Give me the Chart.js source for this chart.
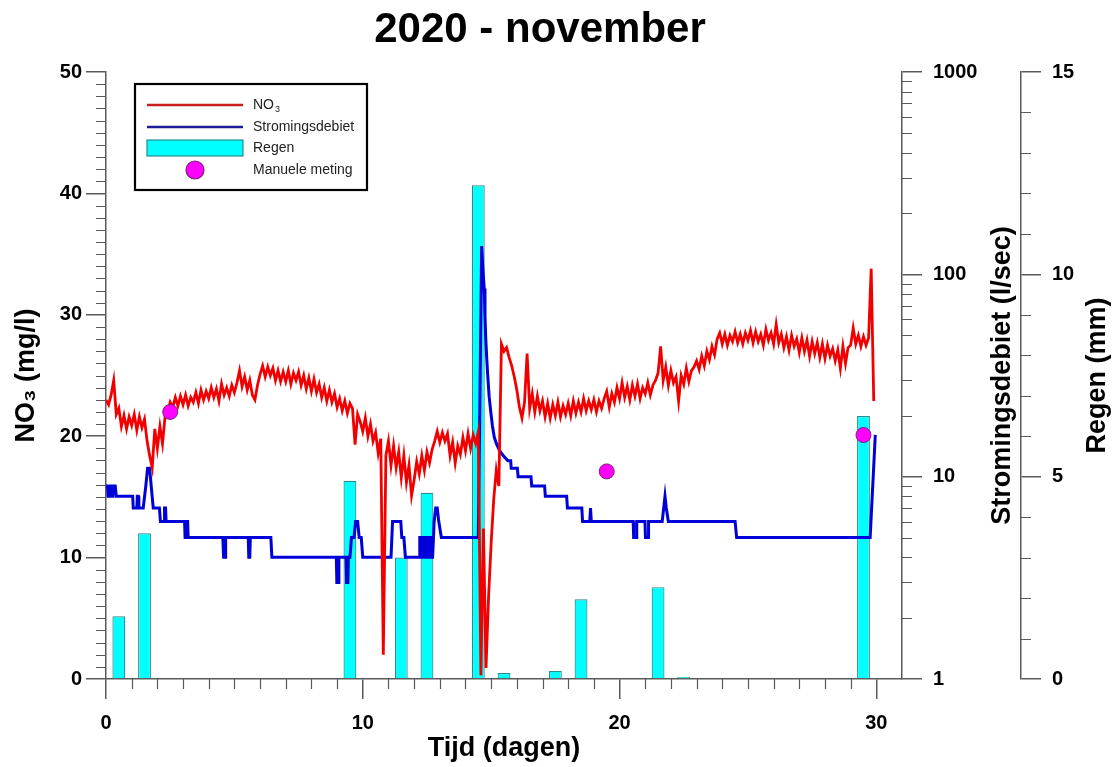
<!DOCTYPE html>
<html>
<head>
<meta charset="utf-8">
<title>2020 - november</title>
<script src="https://cdn.jsdelivr.net/npm/chart.js@4.4.0/dist/chart.umd.min.js"></script>
<style>
  html, body { margin: 0; padding: 0; background: #fff; }
  #wrap { width: 1118px; height: 767px; position: relative; }
</style>
</head>
<body>
<div id="wrap"><canvas id="chart"></canvas></div>
<script>
const FONT = 'Arial, "Liberation Sans", Helvetica, sans-serif';
const AXIS = '#5a5a5a';

// NO3 sensor, one reading every 0.1 day starting at day 0
const no3Step = 0.1;
const no3Values = [
  23.0, 22.6, 23.4, 24.6, 21.8, 22.3, 20.8, 21.7, 20.6, 21.6,
  20.9, 21.8, 20.5, 21.6, 20.7, 21.4, 19.6, 18.4, 17.4, 20.6,
  19.0, 20.8, 19.4, 21.6, 21.9, 22.8, 22.4, 23.2, 22.5, 23.3,
  22.6, 23.4, 22.5, 23.2, 22.8, 23.6, 22.7, 23.8, 23.0, 23.7,
  23.1, 24.0, 23.2, 23.9, 22.9, 24.3, 23.4, 24.0, 23.3, 24.2,
  23.6, 24.4, 25.4, 24.1, 24.9, 23.8, 24.6, 23.4, 23.0, 24.2,
  25.1, 25.8, 24.9, 25.7, 25.0, 25.6, 24.6, 25.4, 24.5, 25.3,
  24.5, 25.4, 24.3, 25.2, 24.6, 25.3, 24.2, 25.0, 23.9, 24.8,
  23.7, 24.7, 23.6, 24.3, 23.2, 24.0, 22.9, 23.8, 22.8, 23.5,
  22.4, 23.1, 22.1, 22.9, 21.9, 22.7, 22.3, 19.3, 21.8, 21.2,
  20.4, 21.5, 20.0, 21.0, 19.6, 20.3, 18.6, 19.8, 2.0, 18.4,
  19.6, 17.6, 19.2, 17.4, 18.7, 16.6, 18.4, 16.2, 17.6, 15.1,
  16.4, 17.9, 16.9, 18.4, 17.2, 18.7, 17.8, 18.9, 19.6, 20.4,
  19.5, 20.3, 19.6, 20.2, 18.4, 19.5, 17.8, 19.2, 18.5, 19.9,
  18.8, 20.2, 19.0, 20.1, 19.4, 20.4, 0.3, 12.4, 0.9, 6.8,
  11.2, 14.8, 17.2, 15.9, 27.6, 27.0, 27.3, 26.5, 25.8, 24.9,
  23.8, 22.4, 21.5, 22.8, 26.8, 22.3, 23.5, 22.0, 23.3, 22.1,
  22.9, 21.6, 22.7, 21.5, 22.6, 21.7, 22.8, 21.6, 22.5, 21.8,
  22.7, 21.7, 22.9, 21.9, 22.8, 22.0, 23.1, 22.1, 22.9, 22.2,
  23.0, 22.0, 22.9, 22.3, 23.1, 23.7, 22.4, 23.5, 22.8, 24.0,
  23.1, 24.4, 23.2, 24.1, 23.0, 24.2, 23.3, 24.3, 23.1, 24.0,
  23.5, 24.4, 23.4, 24.2, 24.6, 25.2, 27.4, 24.6, 25.7, 24.2,
  25.4, 24.4, 24.9, 22.9, 25.0, 24.3, 25.6, 24.5, 25.4, 25.7,
  26.2, 25.5, 26.6, 25.8, 27.0, 26.3, 27.4, 26.7, 28.0, 28.5,
  27.6, 28.4, 27.5, 28.3, 27.8, 28.6, 27.7, 28.4, 27.6, 28.5,
  27.9, 28.7, 27.7, 28.6, 27.8, 28.4, 27.5, 28.8, 27.9, 28.5,
  27.6, 29.2, 27.7, 28.4, 27.3, 28.2, 27.1, 28.3, 27.4, 28.0,
  26.9, 28.1, 27.0, 27.9, 26.6, 27.8, 26.8, 27.7, 26.5, 27.6,
  26.4, 27.5, 26.6, 27.2, 26.2, 27.1, 25.6, 27.4, 26.0, 27.3,
  27.5, 28.9, 27.6, 28.3, 27.4, 28.2, 27.5, 28.1, 33.8, 22.9
];

// flow (l/sec), logged on change
const flowDays = [
  0, 0.06, 0.08, 0.12, 0.14, 0.2, 0.22, 0.27, 0.29, 0.36, 0.4,
  1.04, 1.06, 1.2, 1.22, 1.26, 1.28, 1.45, 1.55, 1.62, 1.7, 1.76, 1.84,
  2.08, 2.12, 2.26, 2.28, 2.32, 2.34, 3.06, 3.08, 3.12, 3.14, 3.18, 3.2,
  4.55, 4.58, 4.64, 4.66, 5.54, 5.56, 5.6, 5.62, 6.42, 6.46,
  8.97, 8.99, 9.05, 9.07, 9.35, 9.37, 9.42, 9.44, 9.5, 9.56, 9.66, 9.72, 9.8, 9.86, 9.94, 10.0,
  11.1, 11.16, 11.48, 11.52, 11.6, 11.66,
  12.2, 12.22, 12.3, 12.32, 12.36, 12.38, 12.48, 12.5, 12.56, 12.58, 12.64, 12.66,
  12.72, 12.78, 12.84, 12.9, 12.96, 13.06,
  14.5, 14.63, 14.68, 14.73, 14.76, 14.79, 14.83, 14.86, 14.92, 14.99, 15.05, 15.12,
  15.2, 15.32, 15.45, 15.65, 15.76, 15.78, 16.02, 16.05, 16.55, 16.58, 17.08, 17.11,
  17.94, 17.97, 18.53, 18.56, 18.84, 18.87, 18.9,
  20.53, 20.55, 20.65, 20.67, 20.99, 21.01, 21.11, 21.13,
  21.66, 21.72, 21.77, 21.82, 21.9, 24.5, 24.56, 29.76, 29.96
];
const flowValues = [
  9, 9, 8, 8, 9, 9, 8, 8, 9, 9, 8,
  8, 7, 7, 8, 8, 7, 7, 9, 11, 11, 9, 7,
  7, 6, 6, 7, 7, 6, 6, 5, 5, 6, 6, 5,
  5, 4, 4, 5, 5, 4, 4, 5, 5, 4,
  4, 3, 3, 4, 4, 3, 3, 4, 4, 5, 5, 6, 6, 5, 5, 4,
  4, 6, 6, 5, 5, 4,
  4, 5, 5, 4, 4, 5, 5, 4, 4, 5, 5, 4,
  4, 6, 7, 7, 6, 5,
  5, 138, 105, 85, 62, 48, 38, 32.6, 25, 20.6, 17.8, 15.7,
  14.6, 13.5, 12.8, 12, 12, 11, 11, 10, 10, 9, 9, 8,
  8, 7, 7, 6, 6, 7, 6,
  6, 5, 5, 6, 6, 5, 5, 6,
  6, 7, 8, 7, 6, 6, 5, 5, 16.1
];

// daily rain (mm), bar at the middle of each day
const rainDays = [
  0.5, 1.5, 2.5, 3.5, 4.5, 5.5, 6.5, 7.5, 8.5, 9.5,
  10.5, 11.5, 12.5, 13.5, 14.5, 15.5, 16.5, 17.5, 18.5, 19.5,
  20.5, 21.5, 22.5, 23.5, 24.5, 25.5, 26.5, 27.5, 28.5, 29.5
];
const rainValues = [
  1.55, 3.6, 0, 0, 0, 0, 0, 0, 0, 4.9,
  0, 3.0, 4.6, 0, 12.2, 0.15, 0, 0.2, 1.97, 0,
  0, 2.27, 0.05, 0, 0, 0, 0, 0, 0, 6.5
];

// grab samples
const manualDays = [2.5, 19.5, 29.5];
const manualValues = [22.0, 17.1, 20.1];

const dayTicks = [0, 10, 20, 30];
const no3Ticks = [0, 10, 20, 30, 40, 50];
const flowTicks = [1, 10, 100, 1000];
const rainTicks = [0, 5, 10, 15];

const RED = '#f20000';
const BLUE = '#0000d8';
const CYAN = '#00ffff';
const MAGENTA = '#ff00ff';

const tickFont = { family: FONT, size: 20, weight: 'bold' };
const titleFont = { family: FONT, size: 27, weight: 'bold' };

function fixedTicks(list) {
  return scale => { scale.ticks = list.map(v => ({ value: v })); };
}

// minor ticks, right-hand axis titles, chart title and the boxed legend
const decor = {
  id: 'decor',
  afterDraw(chart) {
    const { ctx, chartArea, scales } = chart;
    const { x, y, y1, y2 } = scales;
    const r = v => Math.round(v) + 0.5;
    ctx.save();

    ctx.strokeStyle = AXIS;
    ctx.lineWidth = 1.2;
    ctx.beginPath();
    for (let d = 1; d <= 30; d++) {
      if (d % 10 === 0) continue;
      const px = r(x.getPixelForValue(d));
      ctx.moveTo(px, x.top); ctx.lineTo(px, x.top + 10);
    }
    for (let v = 1; v < 50; v++) {
      if (v % 10 === 0) continue;
      const py = r(y.getPixelForValue(v));
      ctx.moveTo(y.right - 10, py); ctx.lineTo(y.right, py);
    }
    for (const dec of [1, 10, 100]) {
      for (let k = 2; k <= 9; k++) {
        const py = r(y1.getPixelForValue(dec * k));
        ctx.moveTo(y1.left, py); ctx.lineTo(y1.left + 10, py);
      }
    }
    for (let v = 1; v < 15; v++) {
      if (v % 5 === 0) continue;
      const py = r(y2.getPixelForValue(v));
      ctx.moveTo(y2.left, py); ctx.lineTo(y2.left + 10, py);
    }
    ctx.stroke();

    // right axis titles read bottom to top, like the left one
    const midY = (chartArea.top + chartArea.bottom) / 2;
    ctx.fillStyle = '#000';
    ctx.font = `bold ${titleFont.size}px ${FONT}`;
    ctx.textAlign = 'center';
    ctx.textBaseline = 'middle';
    [['Stromingsdebiet (l/sec)', y1.left + 101], ['Regen (mm)', y2.left + 77]].forEach(([text, cx]) => {
      ctx.save();
      ctx.translate(cx, midY);
      ctx.rotate(-Math.PI / 2);
      ctx.fillText(text, 0, 0);
      ctx.restore();
    });

    // chart title
    ctx.font = `bold 42px ${FONT}`;
    ctx.fillText('2020 - november', 540, 30);

    // legend box
    const lg = { x: 135, y: 84, w: 232, h: 106 };
    ctx.fillStyle = '#fff';
    ctx.fillRect(lg.x, lg.y, lg.w, lg.h);
    ctx.lineWidth = 2.2;
    ctx.strokeStyle = '#000';
    ctx.strokeRect(lg.x, lg.y, lg.w, lg.h);

    const sx0 = lg.x + 12, sx1 = lg.x + 108, tx = lg.x + 118;
    const rows = [lg.y + 21, lg.y + 43, lg.y + 64, lg.y + 86];
    ctx.lineWidth = 2.5;
    ctx.strokeStyle = '#c82020';
    ctx.beginPath(); ctx.moveTo(sx0, rows[0]); ctx.lineTo(sx1, rows[0]); ctx.stroke();
    ctx.strokeStyle = '#1c1c98';
    ctx.beginPath(); ctx.moveTo(sx0, rows[1]); ctx.lineTo(sx1, rows[1]); ctx.stroke();
    ctx.fillStyle = CYAN;
    ctx.fillRect(sx0, rows[2] - 8, sx1 - sx0, 16);
    ctx.lineWidth = 1.2;
    ctx.strokeStyle = '#2b8a8a';
    ctx.strokeRect(sx0, rows[2] - 8, sx1 - sx0, 16);
    ctx.beginPath();
    ctx.arc((sx0 + sx1) / 2, rows[3], 9, 0, Math.PI * 2);
    ctx.fillStyle = MAGENTA;
    ctx.fill();
    ctx.strokeStyle = '#7a1f7a';
    ctx.stroke();

    ctx.fillStyle = '#222';
    ctx.textAlign = 'left';
    ctx.textBaseline = 'middle';
    ctx.font = `14px ${FONT}`;
    ctx.fillText('NO', tx, rows[0]);
    const noW = ctx.measureText('NO').width;
    ctx.font = `9px ${FONT}`;
    ctx.fillText('3', tx + noW + 1, rows[0] + 5);
    ctx.font = `14px ${FONT}`;
    ctx.fillText('Stromingsdebiet', tx, rows[1]);
    ctx.fillText('Regen', tx, rows[2]);
    ctx.fillText('Manuele meting', tx, rows[3]);

    ctx.restore();
  }
};

const no3Points = no3Values.map((v, i) => ({ x: +(i * no3Step).toFixed(2), y: v }));
const flowPoints = flowDays.map((d, i) => ({ x: d, y: flowValues[i] }));
const rainPoints = rainDays.map((d, i) => ({ x: d, y: rainValues[i] }));
const manualPoints = manualDays.map((d, i) => ({ x: d, y: manualValues[i] }));

new Chart(document.getElementById('chart'), {
  type: 'line',
  data: {
    datasets: [
      {
        type: 'scatter', label: 'Manuele meting', data: manualPoints,
        xAxisID: 'x', yAxisID: 'y', order: 0,
        pointRadius: 7.5, pointBackgroundColor: MAGENTA,
        pointBorderColor: '#7a1f7a', pointBorderWidth: 1
      },
      {
        label: 'NO3', data: no3Points, xAxisID: 'x', yAxisID: 'y', order: 1,
        borderColor: RED, borderWidth: 2.8, pointRadius: 0, tension: 0
      },
      {
        label: 'Stromingsdebiet', data: flowPoints, xAxisID: 'x', yAxisID: 'y1', order: 2,
        borderColor: BLUE, borderWidth: 3, pointRadius: 0, tension: 0
      },
      {
        type: 'bar', label: 'Regen', data: rainPoints, xAxisID: 'x', yAxisID: 'y2', order: 3,
        backgroundColor: CYAN, borderColor: '#2b8a8a', borderWidth: 1.2,
        barPercentage: 0.5, categoryPercentage: 1
      }
    ]
  },
  options: {
    responsive: true,
    maintainAspectRatio: false,
    animation: false,
    layout: { padding: { top: 72, right: 0, bottom: 0, left: 0 } },
    plugins: {
      legend: { display: false },
      tooltip: { enabled: false },
      title: { display: false }
    },
    scales: {
      x: {
        type: 'linear', position: 'bottom', min: 0, max: 31, offset: false,
        afterBuildTicks: fixedTicks(dayTicks),
        afterFit: s => { s.height = 88; },
        grid: { offset: false, drawOnChartArea: false, tickLength: 20, color: AXIS, lineWidth: 1.5 },
        border: { color: AXIS, width: 1.5 },
        ticks: { font: tickFont, color: '#000', padding: 12, maxRotation: 0, autoSkip: false },
        title: { display: true, text: 'Tijd (dagen)', font: titleFont, color: '#000', padding: { top: 0, bottom: 2 } }
      },
      y: {
        type: 'linear', position: 'left', min: 0, max: 50,
        afterBuildTicks: fixedTicks(no3Ticks),
        afterFit: s => { s.width = 106; },
        grid: { drawOnChartArea: false, tickLength: 20, color: AXIS, lineWidth: 1.5 },
        border: { color: AXIS, width: 1.5 },
        ticks: { font: tickFont, color: '#000', padding: 4 },
        title: { display: true, text: 'NO₃ (mg/l)', font: titleFont, color: '#000', padding: { top: 10 } }
      },
      y1: {
        type: 'logarithmic', position: 'right', min: 1, max: 1000, weight: 1,
        afterBuildTicks: fixedTicks(flowTicks),
        afterFit: s => { s.width = 119; },
        grid: { drawOnChartArea: false, tickLength: 20, color: AXIS, lineWidth: 1.5 },
        border: { color: AXIS, width: 1.5 },
        ticks: { font: tickFont, color: '#000', padding: 11, callback: v => String(v) }
      },
      y2: {
        type: 'linear', position: 'right', min: 0, max: 15, weight: 2,
        afterBuildTicks: fixedTicks(rainTicks),
        afterFit: s => { s.width = 97; },
        grid: { drawOnChartArea: false, tickLength: 20, color: AXIS, lineWidth: 1.5 },
        border: { color: AXIS, width: 1.5 },
        ticks: { font: tickFont, color: '#000', padding: 11 }
      }
    }
  },
  plugins: [decor]
});
</script>
</body>
</html>
